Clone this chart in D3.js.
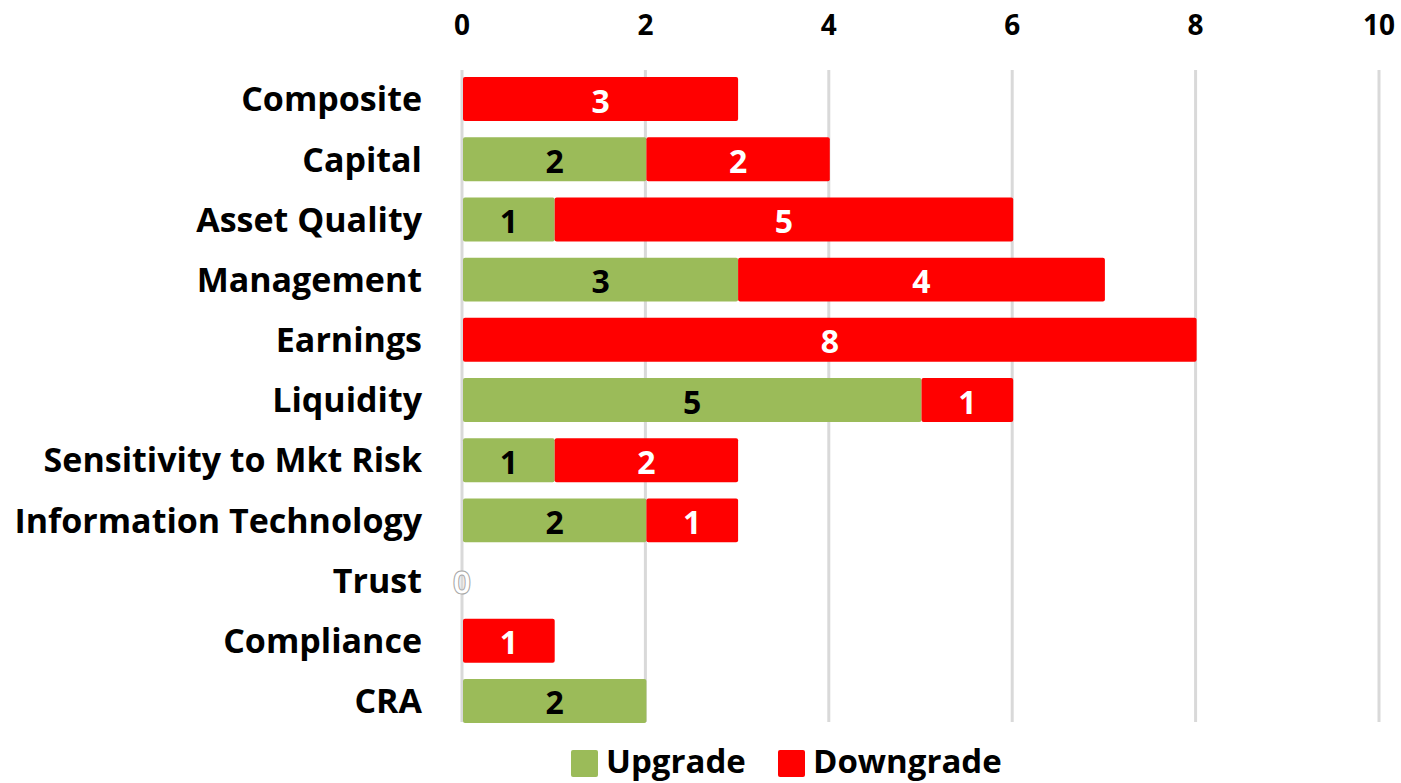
<!DOCTYPE html>
<html>
<head>
<meta charset="utf-8">
<script src="https://cdn.jsdelivr.net/npm/d3@7"></script>
<style>
  html, body { margin: 0; padding: 0; background: #fff; }
  svg { display: block; font-family: "Open Sans", Lato, sans-serif; font-weight: 700; }
</style>
</head>
<body>
<svg id="chart" width="1401" height="783"></svg>
<script>
const categories = ["Composite", "Capital", "Asset Quality", "Management", "Earnings", "Liquidity",
  "Sensitivity to Mkt Risk", "Information Technology", "Trust", "Compliance", "CRA"];
const upgrades   = [0, 2, 1, 3, 0, 5, 1, 2, 0, 0, 2];
const downgrades = [3, 2, 5, 4, 8, 1, 2, 1, 0, 1, 0];
const xTicks = [0, 2, 4, 6, 8, 10];
const seriesNames = ["Upgrade", "Downgrade"];
const seriesColors = ["#9bbb59", "#ff0000"];
const labelColors = ["#000000", "#ffffff"];

const svg = d3.select("#chart");
const x = d3.scaleLinear().domain([0, 10]).range([462, 1379]);
const y = d3.scaleBand().domain(categories).range([69, 731]).paddingInner(0.27).paddingOuter(0.135);

// vertical gridlines
svg.append("g").selectAll("line").data(xTicks).join("line")
  .attr("x1", d => x(d)).attr("x2", d => x(d))
  .attr("y1", 70).attr("y2", 722)
  .attr("stroke", "#d9d9d9").attr("stroke-width", 3);

// top axis tick labels
svg.append("g").selectAll("text").data(xTicks).join("text")
  .attr("x", d => x(d)).attr("y", 25).attr("dy", "0.36em")
  .attr("text-anchor", "middle")
  .attr("font-size", 28).attr("fill", "#000")
  .text(d => d);

// stacked segments
const rows = categories.map((c, i) => ({ c, vals: [upgrades[i], downgrades[i]] }));
const segs = [];
rows.forEach(r => {
  let acc = 0;
  r.vals.forEach((v, s) => { segs.push({ c: r.c, s, v, x0: acc, x1: acc + v }); acc += v; });
});

svg.append("g").selectAll("rect").data(segs.filter(d => d.v > 0)).join("rect")
  .attr("x", d => x(d.x0) + 1).attr("width", d => x(d.x1) - x(d.x0))
  .attr("y", d => y(d.c)).attr("height", y.bandwidth())
  .attr("rx", 2)
  .attr("fill", d => seriesColors[d.s]);

// value labels
svg.append("g").selectAll("text").data(segs.filter(d => d.v > 0)).join("text")
  .attr("x", d => (x(d.x0) + x(d.x1)) / 2 + 1)
  .attr("y", d => y(d.c) + y.bandwidth() / 2 + 2)
  .attr("dy", "0.36em")
  .attr("text-anchor", "middle")
  .attr("font-size", 32)
  .attr("fill", d => labelColors[d.s])
  .text(d => d.v);

// zero-total rows get a hollow "0" at the axis
svg.append("g").selectAll("text").data(rows.filter(r => r.vals[0] + r.vals[1] === 0)).join("text")
  .attr("x", x(0))
  .attr("y", d => y(d.c) + y.bandwidth() / 2 + 2)
  .attr("dy", "0.36em")
  .attr("text-anchor", "middle")
  .attr("font-size", 32)
  .attr("fill", "#fff").attr("stroke", "#a6a6a6").attr("stroke-width", 1)
  .text("0");

// category labels
svg.append("g").selectAll("text").data(categories).join("text")
  .attr("x", 422)
  .attr("y", d => y(d) + y.bandwidth() / 2)
  .attr("dy", "0.36em")
  .attr("text-anchor", "end")
  .attr("font-size", 34)
  .attr("fill", "#000")
  .text(d => d);

// legend
const legend = svg.append("g");
const legendX = [571, 778];
seriesNames.forEach((n, i) => {
  legend.append("rect")
    .attr("x", legendX[i]).attr("y", 750).attr("width", 27).attr("height", 27)
    .attr("rx", 2).attr("fill", seriesColors[i]);
  legend.append("text")
    .attr("x", legendX[i] + 35).attr("y", 761).attr("dy", "0.36em")
    .attr("font-size", 33).attr("fill", "#000")
    .text(n);
});
</script>
</body>
</html>
